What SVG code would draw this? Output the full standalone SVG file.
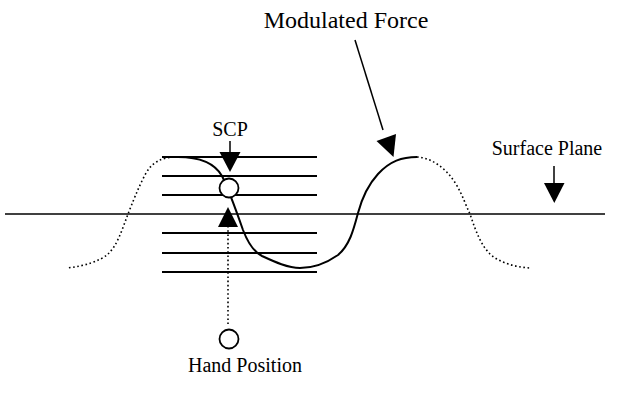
<svg xmlns="http://www.w3.org/2000/svg" width="636" height="398" viewBox="0 0 636 398">
<style>
text{font-family:"Liberation Serif","Times New Roman",serif;font-size:20px;fill:#000;text-anchor:middle}
.big{font-size:24px}
.ln{stroke:#000;stroke-width:2;fill:none}
.sl{stroke:#000;stroke-width:1.5;fill:none}
.dot{stroke:#000;stroke-width:1.6;fill:none;stroke-dasharray:1.6 2.6}
.crv{stroke:#000;stroke-width:2;fill:none}
.ah{fill:#000}
.circ{fill:#fff;stroke:#000;stroke-width:1.8}
</style>
<rect width="636" height="398" fill="#fff"/>
<g id="layers">
<line class="ln" x1="162" y1="157" x2="317" y2="157"/>
<line class="ln" x1="162" y1="176" x2="317" y2="176"/>
<line class="ln" x1="162" y1="195" x2="317" y2="195"/>
<line class="ln" x1="162" y1="233" x2="317" y2="233"/>
<line class="ln" x1="162" y1="253" x2="317" y2="253"/>
<line class="ln" x1="162" y1="272" x2="317" y2="272"/>
</g>
<g id="surface-plane-line">
<line class="sl" x1="5" y1="214" x2="605" y2="214"/>
</g>
<g id="force-curve">
<path class="dot" d="M178,157 C160,157 152,163 146,173 C138,188 132,204 128,214 C122,230 117,246 108,254 C100,261 85,266 67,268"/>
<path class="crv" d="M178,157 C198,157 214,162 222,176 C228,188 236,210 243,230 C248,243 254,252 262,256 C275,262 288,268 300,268 C314,268 328,262 338,255 C350,245 354,228 358,213 C362,198 367,186 378,174 C390,161 402,157 417,157"/>
<path class="dot" d="M417,157 C432,158 446,168 456,184 C463,196 466,206 470,214 C476,232 481,245 490,254 C500,263 515,267 530,268"/>
</g>
<g id="scp">
<text x="230" y="136">SCP</text>
<circle class="circ" cx="229" cy="188" r="9.5"/>
</g>
<g id="hand-position">
<circle class="circ" cx="229" cy="339" r="9.5"/>
<text x="245" y="372">Hand Position</text>
</g>
<g id="modulated-force">
<text class="big" x="346" y="28">Modulated Force</text>
</g>
<g id="surface-plane">
<text x="547" y="155">Surface Plane</text>
</g>
<g id="connectors">
<line class="sl" x1="230" y1="141" x2="230" y2="153"/>
<polygon class="ah" points="219.5,152 240.5,152 230,172"/>
<line class="dot" x1="228" y1="226" x2="228" y2="324"/>
<polygon class="ah" points="218,227 238,227 228,207"/>
<line class="sl" x1="554" y1="166" x2="554" y2="184"/>
<polygon class="ah" points="544,183 564.5,183 554.3,203"/>
<line class="sl" x1="355" y1="40" x2="383" y2="130"/>
<polygon class="ah" points="376.5,141 396,134 393.5,157"/>
</g>
</svg>
